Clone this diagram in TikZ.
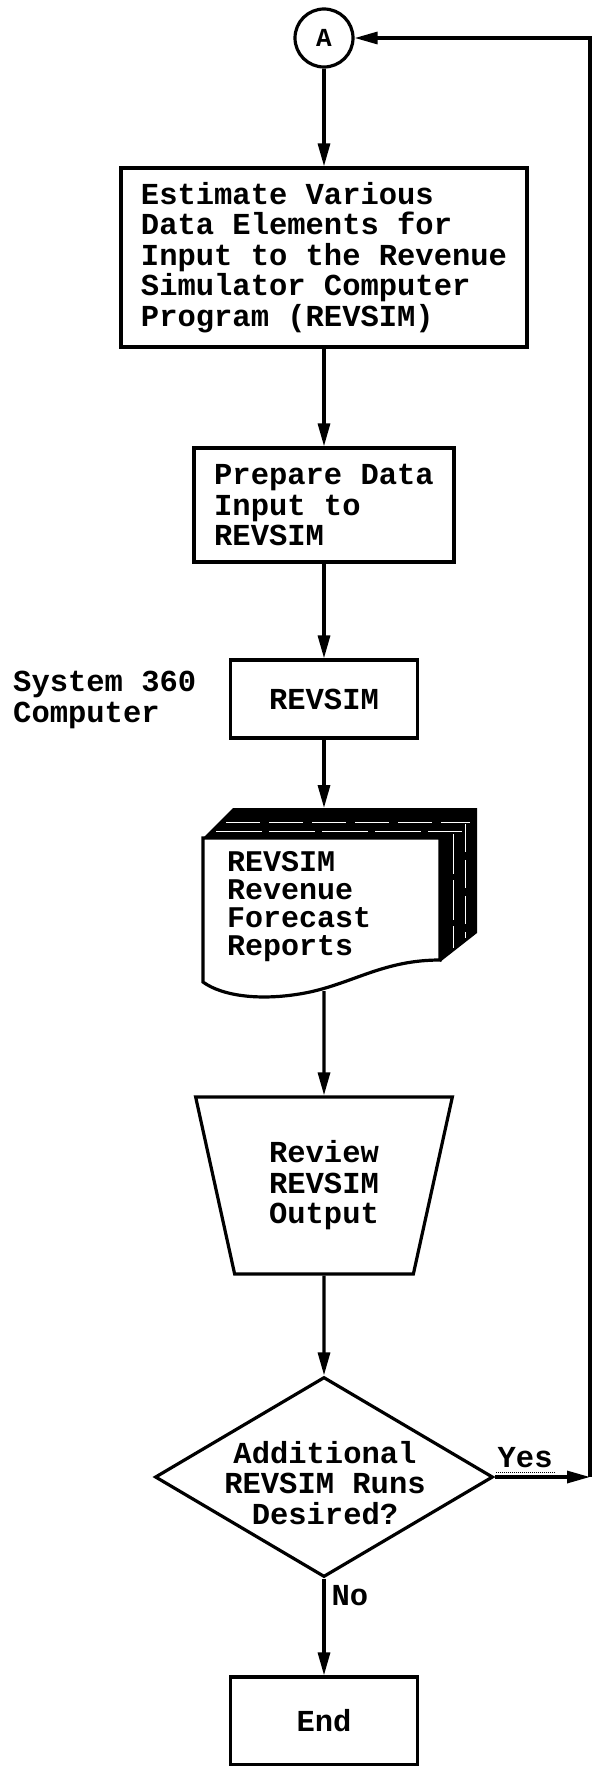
\documentclass[tikz,border=0pt]{standalone}
\usepackage{fontspec}
\setmonofont{Liberation Mono}
\usetikzlibrary{arrows.meta,shapes.geometric}
\newcommand{\rs}{\textbf{REVSIM}}

\begin{document}
\begin{tikzpicture}[x=1pt, y=1pt,
  >={Triangle[length=23pt,width=12pt]},
  font=\ttfamily\bfseries\fontsize{30.5}{30.5}\selectfont,
  box/.style={rectangle, draw, line width=3.2pt, align=left, inner sep=0pt},
  conn/.style={circle, draw, line width=3.2pt, minimum size=58pt, inner sep=0pt,
               font=\ttfamily\bfseries\fontsize{26}{26}\selectfont},
  trap/.style={trapezium, draw, line width=3.2pt, trapezium angle=75, shape border rotate=180,
               trapezium stretches=true, align=left, inner sep=0pt},
  ask/.style={diamond, draw, line width=3.2pt, inner sep=0pt},
  e/.style={->, line width=3.2pt},
  lbl/.style={inner sep=0pt, align=left},
]
\useasboundingbox (0,0) rectangle (596,-1766);

\node[conn] (A) at (324,-38) {A};
\node[box, minimum width=406, minimum height=179] (est) at (324,-257.5)
  {Estimate Various\\Data Elements for\\Input to the Revenue\\Simulator Computer\\Program (\rs)};
\node[box, minimum width=260, minimum height=114] (prep) at (324,-505) {Prepare Data\\Input to\\\rs};
\node[box, minimum width=187, minimum height=78] (sim) at (324,-699) {\rs};
\node[lbl, anchor=west] (sys) at (13,-700) {System 360\\Computer};

% stack of report pages
\fill (203,-838) -- (233,-808) -- (477,-808) -- (477,-933) -- (440,-962) -- (440,-838) -- cycle;
\draw[white, line width=1pt, dash pattern=on 34pt off 9pt] (226,-822) -- (470,-822);
\draw[white, line width=1pt, dash pattern=on 46pt off 7pt] (216,-831) -- (462,-831);
\draw[white, line width=1pt, dash pattern=on 40pt off 6pt] (453,-834) -- (453,-948);
\draw[white, line width=1pt, dash pattern=on 28pt off 8pt] (465,-824) -- (465,-938);
\filldraw[fill=white, line width=3.2pt] (203,-838) -- (440,-838) -- (440,-960)
  .. controls (385,-960) and (355,-982) .. (310,-992)
  .. controls (262,-1002) and (222,-996) .. (203,-982) -- cycle;
\node[lbl, anchor=north west, font=\ttfamily\bfseries\fontsize{30}{28}\selectfont] (rep) at (227,-851)
  {\rs\\Revenue\\Forecast\\Reports};
\coordinate (doctop) at (324,-808);
\coordinate (docbot) at (324,-991);

\node[trap, minimum width=257, minimum height=177] (rev) at (324,-1185.5) {Review\\REVSIM\\Output};
\node[ask, minimum width=338, minimum height=200] (dec) at (324,-1477) {};
\node[lbl, align=center] (dectxt) at (325,-1483) {Additional\\REVSIM Runs\\Desired?};
\node[box, minimum width=187, minimum height=88, align=center] (fin) at (324,-1721) {End};
\coordinate (turn) at (590,-1477);

\draw[e] (A) -- (est);
\draw[e] (est) -- (prep);
\draw[e] (prep) -- (sim);
\draw[e] (sim) -- (doctop);
\draw[e] (docbot) -- (rev);
\draw[e] (rev) -- (dec);
\draw[e] (dec) -- (fin) node[lbl, pos=0.18, right=6pt] {No};
\draw[e] (dec.east) -- (turn) node[lbl, pos=0.32, above=8pt] (yes) {Yes};
\draw[densely dotted, line width=1pt] ([yshift=-3pt]yes.south west) -- ([yshift=-3pt]yes.south east);
% back to A
\draw[e] (turn) |- (A.east);
\end{tikzpicture}
\end{document}
